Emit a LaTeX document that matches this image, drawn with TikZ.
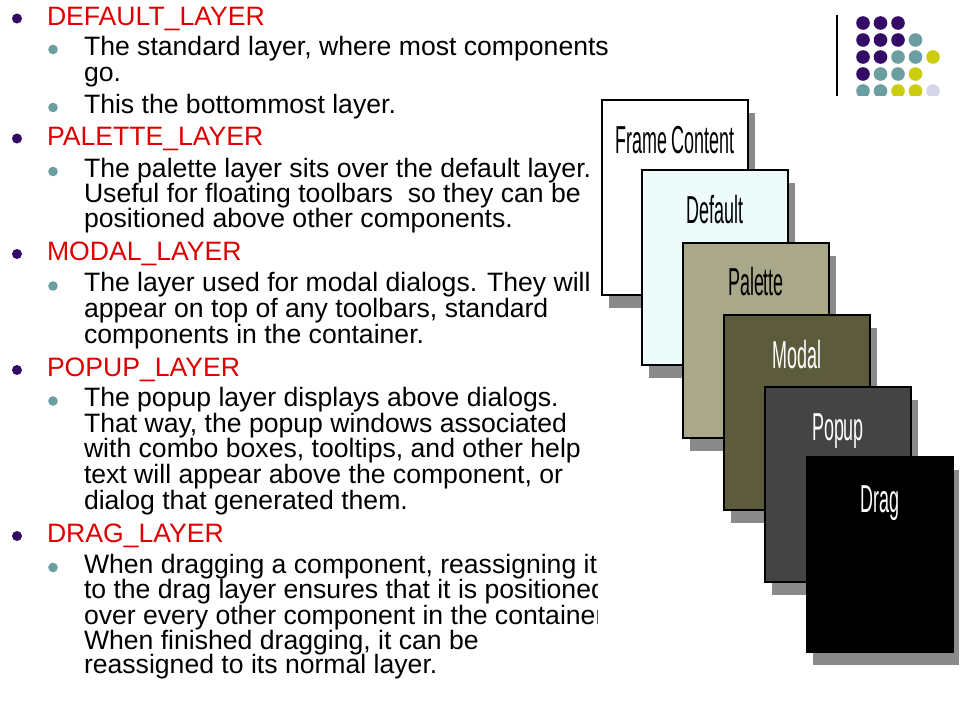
\documentclass[tikz,border=0pt]{standalone}
\usepackage{fontspec}
\setmainfont{Liberation Sans}
\definecolor{headred}{HTML}{DD0000}
\definecolor{bpurple}{HTML}{330A66}
\definecolor{bteal}{HTML}{6A9EA0}
\definecolor{dyellow}{HTML}{CCCC11}
\definecolor{dlav}{HTML}{D7D7EA}
\definecolor{shadowgray}{HTML}{8A8A8A}
\definecolor{defcyan}{HTML}{EEFBFB}
\definecolor{palkhaki}{HTML}{A9A88A}
\definecolor{modolive}{HTML}{5C5C3C}
\definecolor{popgray}{HTML}{444444}
\tikzset{
  txt/.style={anchor=base west, inner sep=0pt, outer sep=0pt, font=\fontsize{26.6}{26.6}\selectfont},
  headtxt/.style={txt, text=headred},
  layerbox/.style={draw=black, line width=2.4pt, minimum width=146pt, minimum height=195pt, anchor=north west, inner sep=0pt, outer sep=0pt},
  shadowbox/.style={fill=shadowgray, minimum width=146pt, minimum height=195pt, anchor=north west, inner sep=0pt, outer sep=0pt},
  lbl/.style={anchor=base, font=\fontsize{39}{39}\selectfont, xscale=0.46, inner sep=0pt},
  dot/.style={circle, inner sep=0pt, minimum size=14pt}
}
\newcommand{\myH}[3]{\fill[bpurple] (17,#2-6.5) circle (5pt);
  \node[headtxt] (#1) at (47,#2) {#3};}
\newcommand{\myS}[3]{\fill[bteal] (53,#2-5.5) circle (4.8pt);
  \node[txt] (#1) at (84,#2) {#3};}
\newcommand{\myC}[3]{\node[txt] (#1) at (84,#2) {#3};}
\begin{document}
\begin{tikzpicture}[x=1pt,y=-1pt]
\useasboundingbox (0,0) rectangle (960,720);
\fill[white] (0,0) rectangle (960,720);
% decoration top right
\draw[line width=1.3pt] (837,15) -- (837,96);
\foreach \x/\y/\c in {863/23/bpurple,880.5/23/bpurple,898/23/bpurple,
  863/40/bpurple,880.5/40/bpurple,898/40/bpurple,915.5/40/bteal,
  863/57/bpurple,880.5/57/bpurple,898/57/bteal,915.5/57/bteal,933/57/dyellow,
  863/74/bpurple,880.5/74/bteal,898/74/bteal,915.5/74/dyellow,
  863/91/bteal,880.5/91/bteal,898/91/dyellow,915.5/91/dyellow,933/91/dlav}
  \fill[\c] (\x,\y) circle (6.8pt);
% text
\myH{h1}{25}{DEFAULT\_LAYER}
\myS{s1}{55}{The standard layer, where most components}
\myC{c1}{81}{go.}
\myS{s2}{113}{This the bottommost layer.}
\myH{h2}{145}{PALETTE\_LAYER}
\myS{s3}{177}{The palette layer sits over the default layer.}
\myC{c2}{202}{Useful for floating toolbars\ \ so they can be}
\myC{c3}{227.5}{positioned above other components.}
\myH{h3}{260.5}{MODAL\_LAYER}
\myS{s4}{291.5}{The layer used for modal dialogs. They will}
\myC{c4}{317}{appear on top of any toolbars, standard}
\myC{c5}{343}{components in the container.}
\myH{h4}{376.5}{POPUP\_LAYER}
\myS{s5}{406.5}{The popup layer displays above dialogs.}
\myC{c6}{432.5}{That way, the popup windows associated}
\myC{c7}{457.7}{with combo boxes, tooltips, and other help}
\myC{c8}{483}{text will appear above the component, or}
\myC{c9}{509}{dialog that generated them.}
\myH{h5}{542.5}{DRAG\_LAYER}
\myS{s6}{573}{When dragging a component, reassigning it}
\myC{c10}{598}{to the drag layer ensures that it is positioned}
\myC{c11}{624}{over every other component in the container.}
\myC{c12}{649}{When finished dragging, it can be}
\myC{c13}{673.5}{reassigned to its normal layer.}
% picture background
\fill[white] (598,96) rectangle (960,720);
% layer stack
\node[shadowbox] (fcs) at (609,113) {};
\node[layerbox, fill=white] (fc) at (602,100) {};
\node[lbl] (fcl) at ([yshift=-53pt]fc.north) {Frame Content};
\node[shadowbox] (dfs) at (649,183) {};
\node[layerbox, fill=defcyan] (df) at (642,170) {};
\node[lbl] (dfl) at ([yshift=-53pt]df.north) {Default};
\node[shadowbox] (pas) at (690,256) {};
\node[layerbox, fill=palkhaki] (pa) at (683,243) {};
\node[lbl] (pal) at ([yshift=-52pt]pa.north) {Palette};
\node[shadowbox] (mos) at (731,328) {};
\node[layerbox, fill=modolive] (mo) at (724,315) {};
\node[lbl, text=white] (mol) at ([yshift=-53pt]mo.north) {Modal};
\node[shadowbox] (pos) at (772,400) {};
\node[layerbox, fill=popgray] (po) at (765,387) {};
\node[lbl, text=white] (pol) at ([yshift=-53pt]po.north) {Popup};
\node[shadowbox] (drs) at (813,470) {};
\node[layerbox, fill=black] (dr) at (807,457) {};
\node[lbl, text=white] (drl) at ([yshift=-55pt]dr.north) {Drag};
\end{tikzpicture}
\end{document}
